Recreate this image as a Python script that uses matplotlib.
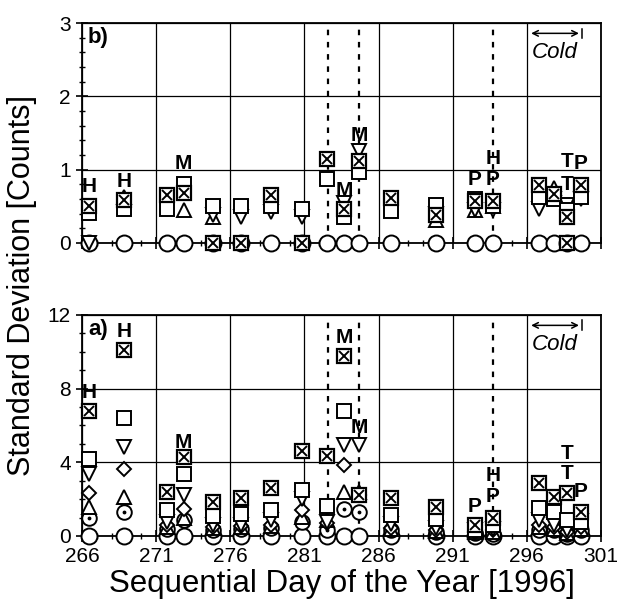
import numpy as np
import matplotlib
matplotlib.use("Agg")
import matplotlib.pyplot as plt
from matplotlib.ticker import MultipleLocator

plt.rcParams['font.family'] = ['Liberation Sans', 'DejaVu Sans']

# sample days (sequential day of 1996)
days = [266.5, 268.85, 271.75, 272.85, 274.85, 276.7, 278.75, 280.85, 282.5, 283.7,
        284.7, 286.85, 289.85, 292.5, 293.7, 296.8, 297.8, 298.7, 299.65]
nan = np.nan

# panel a) values
a_circle = [0] * 19
a_circdot = [0.95, 1.3, 0.4, 0.85, 0.35, 0.4, 0.45, 0.75, 0.35, 1.45, 1.3, 0.3, 0.2, 0.15, 0.1, 0.35, 0.3, 0.1, 0.3]
a_up = [1.6, 2.1, 0.5, 1.0, 0.45, 0.5, 0.55, 1.05, 0.85, 2.4, 2.4, 0.4, 0.25, 0.2, 0.2, 0.5, 0.4, 0.15, 0.4]
a_diamond = [2.35, 3.65, 0.6, 1.45, 0.5, 0.55, 0.6, 1.4, 0.7, 3.85, 2.25, 0.45, 0.3, 0.2, 0.3, 0.6, 0.5, 0.2, 0.5]
a_down = [3.35, 4.85, 0.75, 2.2, 0.6, 0.6, 0.85, 2.0, 0.75, 4.95, 4.95, 0.65, 0.45, 0.3, 0.4, 0.85, 0.6, 0.3, 0.8]
a_square = [4.2, 6.4, 1.4, 3.35, 1.1, 1.2, 1.4, 2.5, 1.65, 6.8, nan, 1.15, 0.9, 0.3, 0.6, 1.5, 1.3, 0.85, 0.75]
a_boxx = [6.8, 10.1, 2.4, 4.3, 1.85, 2.05, 2.6, 4.6, 4.35, 9.75, 2.2, 2.05, 1.6, 0.6, 1.0, 2.9, 2.1, 2.35, 1.3]

# panel b) values
b_circle = [0] * 19
b_up = [nan, 0.63, nan, 0.45, 0.35, nan, nan, nan, nan, nan, nan, nan, 0.32, 0.45, 0.5, nan, 0.75, nan, nan]
b_down = [0, nan, nan, nan, 0.38, 0.36, 0.42, 0.36, nan, 0.55, 1.25, nan, 0.4, 0.45, 0.45, 0.47, 0.6, 0.52, 0.6]
b_square = [0.41, 0.47, 0.47, 0.81, 0.5, 0.5, 0.5, 0.47, 0.87, 0.36, 0.97, 0.43, 0.52, 0.6, 0.5, 0.63, 0.6, 0.45, 0.63]
b_boxx = [0.5, 0.58, 0.65, 0.68, nan, nan, 0.65, nan, 1.14, 0.47, 1.12, 0.61, 0.38, 0.57, 0.57, 0.79, 0.67, 0.36, 0.79]
b_zero_box_days = [274.85, 276.7, 280.85, 298.7]

# event letters: (day, value, letter)
a_labels = [(266.5, 7.8, 'H'), (268.85, 11.1, 'H'), (272.85, 5.05, 'M'), (283.7, 10.8, 'M'),
            (284.7, 5.9, 'M'), (292.5, 1.6, 'P'), (293.7, 2.15, 'P'), (293.7, 3.3, 'H'),
            (298.7, 4.5, 'T'), (298.7, 3.4, 'T'), (299.65, 2.4, 'P')]
b_labels = [(266.5, 0.77, 'H'), (268.85, 0.84, 'H'), (272.85, 1.09, 'M'), (283.7, 0.72, 'M'),
            (284.7, 1.47, 'M'), (292.5, 0.86, 'P'), (293.7, 0.86, 'P'), (293.7, 1.15, 'H'),
            (298.7, 1.11, 'T'), (298.7, 0.8, 'T'), (299.65, 1.09, 'P')]

event_lines = [282.6, 284.7, 293.7]

fig = plt.figure(figsize=(6.18, 6.07), dpi=100)
ax_b = fig.add_axes([0.1327, 0.5997, 0.8398, 0.3624])
ax_a = fig.add_axes([0.1327, 0.1170, 0.8398, 0.3641])


def boxx(ax, x, y):
    ax.plot(x, y, 's', ms=10, mfc='white', mec='black', mew=1.6, ls='none', clip_on=False, zorder=7)
    ax.plot(x, y, 'x', ms=6.5, mec='black', mew=1.4, ls='none', clip_on=False, zorder=8)


def draw(ax, circle, circdot, up, diamond, down, square, box):
    kw = dict(ls='none', mfc='white', mec='black', mew=1.4, clip_on=False)
    ax.plot(days, circle, 'o', ms=11.5, zorder=4, **kw)
    if circdot is not None:
        ax.plot(days, circdot, 'o', ms=10.5, zorder=4, **kw)
        ax.plot(days, circdot, '.', ms=3.5, color='black', ls='none', zorder=4)
    if up is not None:
        ax.plot(days, up, '^', ms=10.5, zorder=5, **kw)
    if diamond is not None:
        ax.plot(days, diamond, 'D', ms=7.5, zorder=5, **kw)
    ax.plot(days, down, 'v', ms=10.5, zorder=5, **kw)
    ax.plot(days, square, 's', ms=10, zorder=6, **kw)
    boxx(ax, days, box)


draw(ax_a, a_circle, a_circdot, a_up, a_diamond, a_down, a_square, a_boxx)
draw(ax_b, b_circle, None, b_up, None, b_down, b_square, b_boxx)
boxx(ax_b, b_zero_box_days, [0] * len(b_zero_box_days))

for ax, labels, ymax, major, minor in [(ax_a, a_labels, 12, 4, 1), (ax_b, b_labels, 3, 1, 0.2)]:
    ax.set_xlim(266, 301)
    ax.set_ylim(0, ymax)
    ax.xaxis.set_major_locator(MultipleLocator(5))
    ax.xaxis.set_minor_locator(MultipleLocator(1))
    ax.yaxis.set_major_locator(MultipleLocator(major))
    ax.yaxis.set_minor_locator(MultipleLocator(minor))
    ax.grid(True, which='major', color='black', lw=0.9)
    ax.set_axisbelow(True)
    ax.tick_params(which='major', direction='inout', length=8, width=1.2, labelsize=15, pad=4)
    ax.tick_params(which='minor', direction='inout', length=5, width=1)
    ax.set_xticks(np.arange(266, 302, 5))
    for s in ax.spines.values():
        s.set_linewidth(1.3)
    for xv in event_lines:
        ax.axvline(xv, color='black', ls=(0, (2.5, 3)), lw=1.6, zorder=3)
    for x, y, t in labels:
        ax.text(x, y, t, ha='center', va='center', fontsize=15, fontweight='bold', zorder=9)
    ax.annotate('', xy=(296.1, ymax * 0.953), xytext=(299.7, ymax * 0.953),
                arrowprops=dict(arrowstyle='<->', color='black', lw=1.1))
    ax.plot([299.7, 299.7], [ymax * 0.93, ymax * 0.975], color='black', lw=1.1)
    ax.text(296.3, ymax * 0.865, 'Cold', style='italic', fontsize=16, ha='left', va='center')

ax_b.set_xticklabels([])
ax_b.text(266.4, 2.8, 'b)', fontsize=16, fontweight='bold', ha='left', va='center')
ax_a.text(266.4, 11.2, 'a)', fontsize=16, fontweight='bold', ha='left', va='center')

ax_a.set_xlabel('Sequential Day of the Year [1996]', fontsize=22.5, labelpad=2)
fig.text(0.036, 0.53, 'Standard Deviation [Counts]', rotation=90, fontsize=22,
         ha='center', va='center')

fig.savefig('out.png', dpi=100)
